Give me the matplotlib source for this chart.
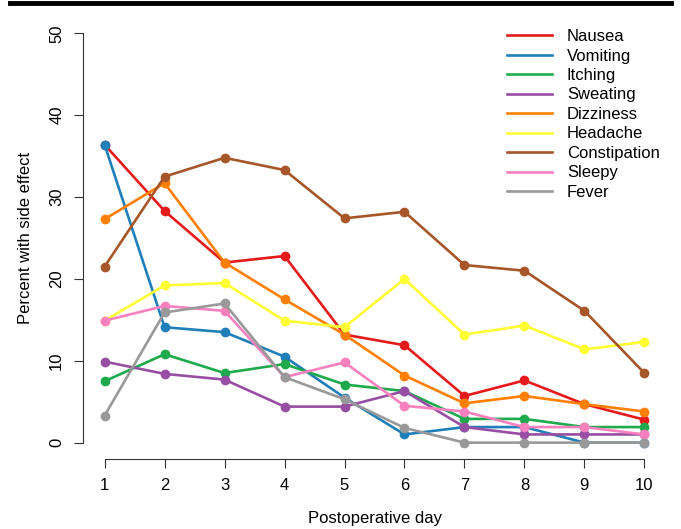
import matplotlib
matplotlib.use("Agg")
import matplotlib.pyplot as plt
from matplotlib.lines import Line2D

plt.rcParams['font.family'] = ['Liberation Sans', 'DejaVu Sans']

days = [1, 2, 3, 4, 5, 6, 7, 8, 9, 10]

nausea = [36.4, 28.3, 22.0, 22.8, 13.2, 11.9, 5.7, 7.6, 4.7, 2.8]
vomiting = [36.4, 14.1, 13.5, 10.5, 5.5, 1.0, 1.9, 1.9, 0.0, 0.0]
itching = [7.5, 10.8, 8.5, 9.6, 7.1, 6.3, 2.9, 2.9, 1.9, 1.9]
sweating = [9.9, 8.4, 7.7, 4.4, 4.4, 6.3, 1.9, 1.0, 1.0, 1.0]
dizziness = [27.3, 31.7, 22.0, 17.5, 13.2, 8.2, 4.8, 5.7, 4.7, 3.8]
headache = [14.9, 19.2, 19.5, 14.9, 14.1, 20.0, 13.2, 14.3, 11.4, 12.3]
constipation = [21.5, 32.5, 34.8, 33.3, 27.4, 28.2, 21.7, 21.0, 16.1, 8.5]
sleepy = [14.9, 16.7, 16.1, 8.0, 9.8, 4.5, 3.8, 1.9, 1.9, 1.0]
fever = [3.3, 15.9, 17.0, 8.0, 5.3, 1.8, 0.0, 0.0, 0.0, 0.0]

names = ['Nausea', 'Vomiting', 'Itching', 'Sweating', 'Dizziness',
         'Headache', 'Constipation', 'Sleepy', 'Fever']
series = [nausea, vomiting, itching, sweating, dizziness,
          headache, constipation, sleepy, fever]
colors = ['#E41A1C', '#1F7FB8', '#1EAA4C', '#984EA3', '#FF7F00',
          '#FFFF33', '#A65628', '#F781BF', '#999999']

fig = plt.figure(figsize=(6.81, 5.29), dpi=100)
ax = fig.add_axes([83 / 681, 1 - 459 / 529, (666 - 83) / 681, (459 - 17) / 529])

for name, vals, col in zip(names, series, colors):
    ax.plot(days, vals, color=col, lw=1.9, marker='o', ms=6,
            mec=col, mfc=col, label=name)

ax.set_xlim(0.64, 10.36)
ax.set_ylim(-2, 52)
ax.set_xticks(days)
ax.set_yticks([0, 10, 20, 30, 40, 50])
ax.set_yticklabels(['0', '10', '20', '30', '40', '50'], rotation=90, va='center')
ax.tick_params(direction='out', length=6.5, labelsize=12, width=0.8,
               color='#333333', pad=7)
for s in ['top', 'right']:
    ax.spines[s].set_visible(False)
for s in ['left', 'bottom']:
    ax.spines[s].set_color('#333333')
ax.spines['left'].set_bounds(0, 50)
ax.spines['bottom'].set_bounds(1, 10)
ax.set_xlabel('Postoperative day', fontsize=12, labelpad=13)
ax.set_ylabel('Percent with side effect', fontsize=12, labelpad=12)

leg_handles = [Line2D([0], [0], color=c, lw=1.9) for c in colors]
fig.legend(leg_handles, names, loc='upper left',
           bbox_to_anchor=(507 / 681, 1 - 29 / 529),
           frameon=False, fontsize=12, handlelength=2.7, handletextpad=0.9,
           labelspacing=0.27, borderaxespad=0, borderpad=0)

fig.add_artist(Line2D([10 / 681, 671 / 681], [1 - 3 / 529, 1 - 3 / 529],
                      color='black', lw=3.5, transform=fig.transFigure))

fig.savefig('out.png', dpi=100)
